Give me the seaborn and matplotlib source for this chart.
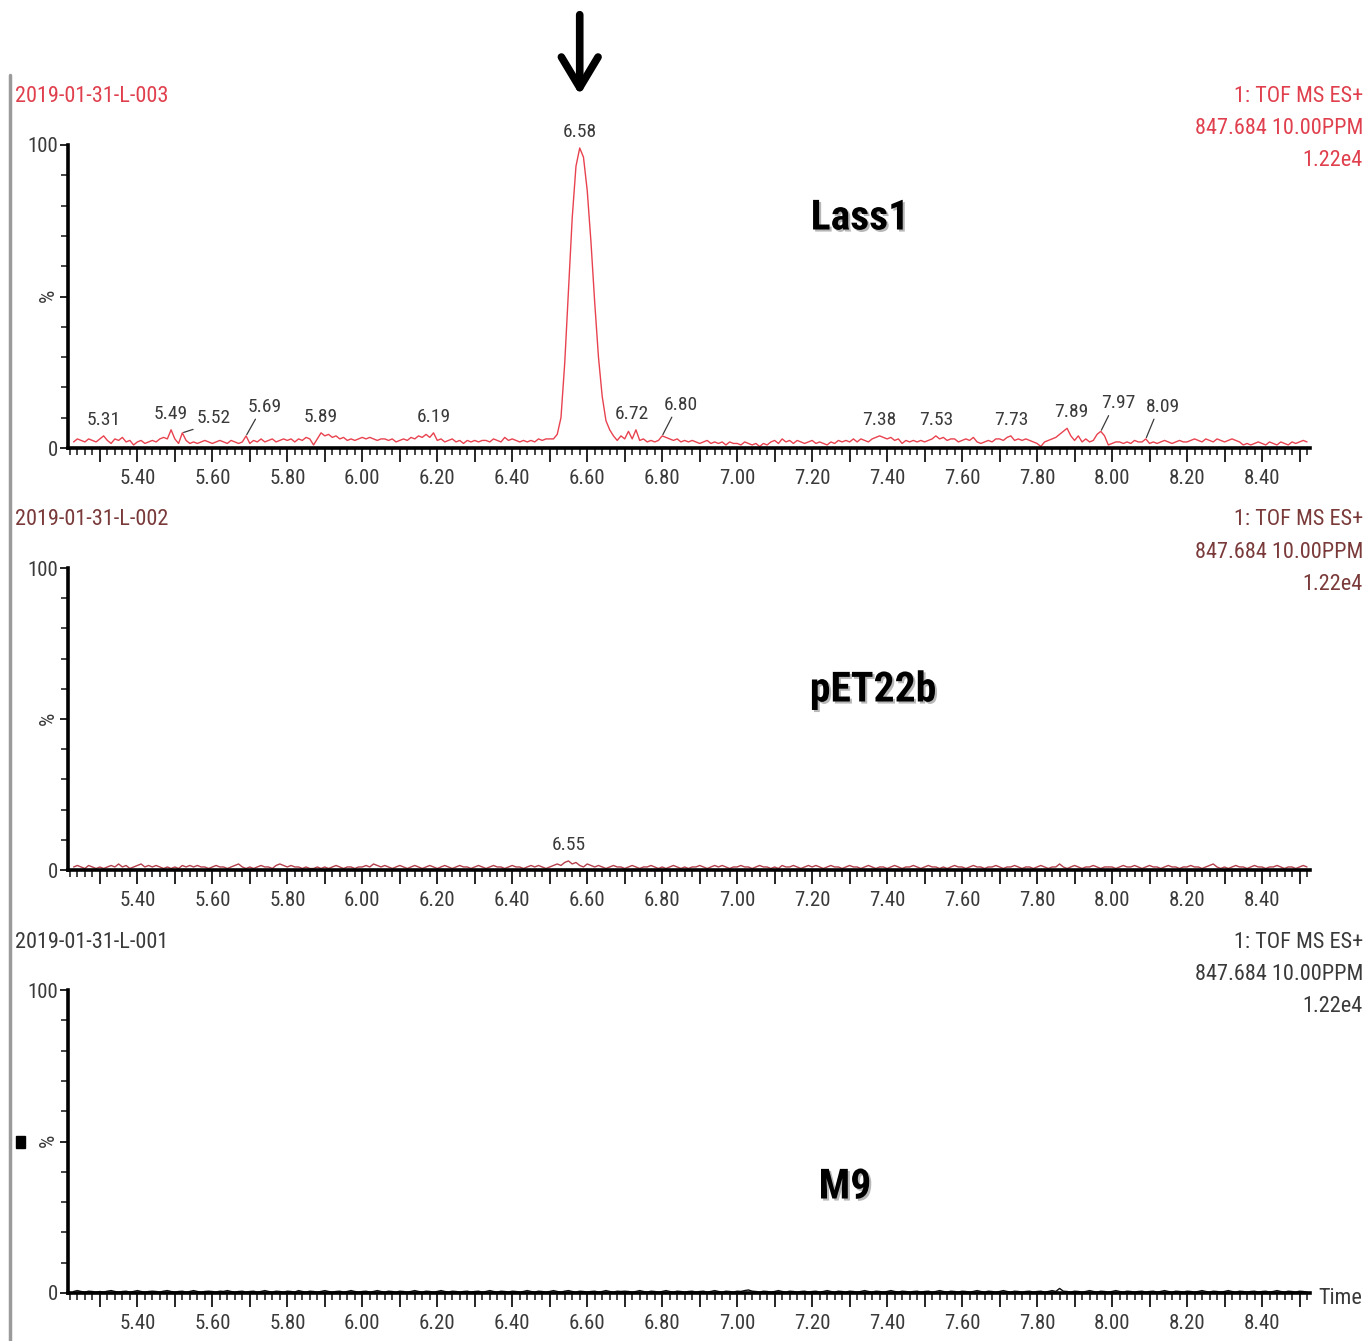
# extracted ion chromatograms m/z 847.684, Lass1 vs pET22b vs M9

import numpy as np
import pandas as pd
import matplotlib
matplotlib.use('Agg')
import matplotlib.pyplot as plt
import matplotlib.patheffects as pe
from matplotlib import font_manager
from matplotlib.ticker import FixedLocator, MultipleLocator, FuncFormatter
import seaborn as sns

# === données ===
# temps de rétention, un scan toutes les 0.01 min de 5.23 à 8.52
time_min = np.round(np.arange(523, 853) / 100, 2)

lass1_pct = [
    2, 3, 2.5, 2, 3, 2.5, 2,
    3, 4, 2.5, 1.5, 3, 2.5, 3.5, 2, 2.5, 1,
    2, 2.5, 1.5, 2, 2.5, 2, 3, 3.5, 3, 6,
    3, 1.5, 5, 2.5, 1.5, 2, 1.5, 2, 2.5, 2,
    1.5, 2, 2.5, 2, 1.5, 2.5, 2, 1.5, 2, 4,
    1.5, 2.5, 2, 3, 2, 2.5, 3, 2, 2.5, 3,
    2.5, 3, 2, 3, 2.5, 3.5, 3, 1, 3, 5,
    4, 4.5, 3.5, 4, 3, 3.5, 2.5, 3, 2.5, 3,
    3.5, 3, 3.5, 3, 2.5, 3, 3, 2.5, 3, 2,
    2.5, 3, 2.5, 3.5, 3, 4, 3.5, 4.5, 3.5, 5,
    2.5, 3, 2, 2.5, 3, 2, 2.5, 1.5, 2.5, 2,
    2.5, 2, 2.5, 2.5, 2, 3, 2.5, 2, 3.5, 2.5,
    3, 2.5, 2, 2.5, 2, 2.5, 2, 3, 2.5, 3,
    3, 3, 4.5, 10, 28, 52, 76, 93, 99, 96,
    85, 68, 48, 30, 17, 9, 6, 4, 2.5, 4,
    3, 5.5, 3, 6, 2.5, 3, 2, 2.5, 2, 2.5,
    4, 3.5, 3, 2.5, 3, 2, 2.5, 2, 2.5, 2,
    1.5, 2, 2.5, 1.5, 2, 1.5, 2, 1, 2, 1.5,
    1.5, 1, 2, 1.5, 1, 1.5, 0.5, 1.5, 1, 2,
    2.5, 1.5, 3, 2, 2.5, 1.5, 2.5, 2, 1.5, 2,
    2.5, 1.5, 2, 1.5, 1, 2, 1.5, 2.5, 2, 2.5,
    2, 3, 2, 3, 2.5, 2, 3, 3.5, 4, 3.5,
    3, 3.5, 2.5, 3, 1.5, 2.5, 2, 2.5, 2, 2.5,
    2, 2.5, 3, 4, 3, 3.5, 2.5, 3, 3, 2,
    2.5, 3, 2.5, 3.5, 2, 1.5, 2, 2.5, 2, 3,
    3, 2.5, 3.5, 4, 2.5, 3, 2.5, 3, 2.5, 2,
    1.5, 0.5, 2, 2.5, 3, 3.5, 4.5, 5.5, 6.5, 4,
    2.5, 4, 2, 3, 2, 2.5, 4.5, 5.5, 4, 1,
    1.5, 2, 2, 1.5, 2, 1.5, 2.5, 2, 2, 3,
    1.5, 2, 1.5, 2, 2.5, 2, 1.5, 2, 2.5, 2,
    2, 2.5, 3, 2.5, 2, 3, 2.5, 2, 3, 2.5,
    2, 2.5, 3, 2.5, 2, 1, 1.5, 1, 1.5, 2,
    1.5, 1, 2, 1.5, 1, 2, 1.5, 1, 2, 1.5,
    2, 2.5, 2,
]

pet22b_pct = [
    1, 1.5, 1, 0.5, 1.5, 1, 0.5,
    1, 0.5, 1, 1.5, 1, 2, 1, 1.5, 0.5, 1,
    1.5, 2, 1, 1.5, 1, 1.5, 1, 0.5, 1, 0.5,
    1, 0.5, 1.5, 1, 1.5, 1, 1.5, 1, 1, 0.5,
    1, 1.5, 1, 1, 0.5, 1, 1.5, 2, 1, 0.5,
    1, 0.5, 1, 1.5, 1, 1, 0.5, 1.5, 2, 1.5,
    1, 1.5, 1, 1, 0.5, 1, 0.5, 0.5, 1, 0.5,
    1, 0.5, 1, 1.5, 1, 0.5, 1, 1, 0.5, 1,
    1, 1.5, 1, 2, 1.5, 1, 1.5, 1, 0.5, 1,
    1.5, 1, 0.5, 1, 1.5, 1, 0.5, 1, 1.5, 1,
    0.5, 1, 1.5, 1, 0.5, 1, 1.5, 1, 1, 0.5,
    1, 1.5, 1, 0.5, 1, 1.5, 1, 1, 0.5, 1,
    1.5, 1, 1, 0.5, 1, 1.5, 1, 1.5, 1, 0.5,
    1, 1.5, 2, 1.5, 2.5, 3, 2, 2.5, 1.5, 1,
    2, 1.5, 1, 1.5, 1, 0.5, 1, 1.5, 1, 1,
    0.5, 1, 1.5, 1, 0.5, 1, 1, 1.5, 1, 0.5,
    1, 0.5, 1, 1.5, 1, 0.5, 1, 0.5, 1, 1,
    1.5, 1, 0.5, 1, 1.5, 1, 1.5, 1, 0.5, 1,
    1, 1.5, 1, 1, 0.5, 1, 1.5, 1, 1, 0.5,
    1, 0.5, 1.5, 1, 1, 1.5, 1, 0.5, 1, 1.5,
    1, 1.5, 1, 0.5, 1, 1.5, 1, 1, 0.5, 1,
    1.5, 1, 1, 0.5, 1, 1.5, 1, 0.5, 1, 1,
    0.5, 1, 1.5, 1, 0.5, 1, 1, 1.5, 1, 0.5,
    1, 1.5, 1, 1, 0.5, 1, 0.5, 1, 1.5, 1,
    1, 0.5, 1, 1.5, 1, 1, 0.5, 1, 1, 1.5,
    1, 0.5, 1, 1, 1.5, 1, 0.5, 1, 1, 0.5,
    1, 1.5, 1, 0.5, 1, 1, 2, 1, 0.5, 1,
    1.5, 1, 0.5, 1, 1, 1.5, 1, 0.5, 1, 1,
    1, 0.5, 1, 1.5, 1, 1, 1.5, 1, 0.5, 1,
    1.5, 1, 1, 0.5, 1, 1.5, 1, 1, 0.5, 1,
    1, 1.5, 1, 1, 0.5, 1, 1.5, 2, 1, 0.5,
    1, 0.5, 1, 1.5, 1, 1, 0.5, 1, 1.5, 1,
    1, 0.5, 1, 1, 1.5, 1, 0.5, 1, 1, 0.5,
    1, 1.5, 1,
]

m9_pct = [
    0.5, 0.8, 0.5, 0.3, 0.6, 0.5, 0.3,
    0.5, 0.3, 0.6, 0.8, 0.5, 0.3, 0.5, 0.6, 0.3, 0.5,
    0.8, 0.5, 0.3, 0.5, 0.6, 0.5, 0.3, 0.6, 0.8, 0.5,
    0.3, 0.5, 0.6, 0.3, 0.5, 0.8, 0.5, 0.3, 0.5, 0.6,
    0.5, 0.3, 0.6, 0.5, 0.8, 0.5, 0.3, 0.5, 0.6, 0.3,
    0.5, 0.6, 0.3, 0.5, 0.8, 0.5, 0.3, 0.6, 0.5, 0.3,
    0.6, 0.5, 0.3, 0.8, 0.5, 0.3, 0.6, 0.5, 0.3, 0.5,
    0.8, 0.5, 0.3, 0.5, 0.6, 0.3, 0.5, 0.8, 0.5, 0.3,
    0.5, 0.6, 0.3, 0.5, 0.8, 0.5, 0.3, 0.6, 0.5, 0.3,
    0.6, 0.5, 0.3, 0.5, 0.8, 0.5, 0.3, 0.6, 0.5, 0.3,
    0.5, 0.8, 0.5, 0.3, 0.6, 0.5, 0.3, 0.5, 0.6, 0.3,
    0.5, 0.6, 0.3, 0.5, 0.8, 0.5, 0.3, 0.6, 0.5, 0.3,
    0.6, 0.5, 0.3, 0.5, 0.8, 0.5, 0.3, 0.6, 0.5, 0.3,
    0.5, 0.8, 0.5, 0.3, 0.6, 0.8, 0.5, 0.3, 0.6, 0.5,
    0.3, 0.5, 0.6, 0.3, 0.5, 0.8, 0.5, 0.3, 0.6, 0.5,
    0.6, 0.5, 0.3, 0.5, 0.8, 0.5, 0.3, 0.6, 0.5, 0.3,
    0.5, 0.8, 0.5, 0.3, 0.6, 0.5, 0.3, 0.5, 0.6, 0.3,
    0.5, 0.6, 0.3, 0.5, 0.8, 0.5, 0.3, 0.6, 0.5, 0.3,
    0.6, 0.5, 0.8, 1.0, 0.6, 0.5, 0.3, 0.6, 0.5, 0.3,
    0.5, 0.8, 0.5, 0.3, 0.6, 0.5, 0.3, 0.5, 0.6, 0.3,
    0.5, 0.6, 0.3, 0.5, 0.8, 0.5, 0.3, 0.6, 0.5, 0.3,
    0.6, 0.5, 0.3, 0.5, 0.8, 0.5, 0.3, 0.6, 0.5, 0.3,
    0.5, 0.8, 0.5, 0.3, 0.6, 0.5, 0.3, 0.5, 0.6, 0.3,
    0.5, 0.6, 0.3, 0.5, 0.8, 0.5, 0.3, 0.6, 0.5, 0.3,
    0.6, 0.5, 0.3, 0.5, 0.8, 0.5, 0.3, 0.6, 0.5, 0.3,
    0.5, 0.8, 0.5, 0.3, 0.6, 0.5, 0.3, 0.5, 0.6, 0.3,
    0.5, 0.6, 0.3, 0.5, 0.8, 0.5, 1.5, 0.6, 0.5, 0.3,
    0.6, 0.5, 0.3, 0.5, 0.8, 0.5, 0.3, 0.6, 0.5, 0.3,
    0.5, 0.8, 0.5, 0.3, 0.6, 0.5, 0.3, 0.5, 0.6, 0.3,
    0.5, 0.6, 0.3, 0.5, 0.8, 0.5, 0.3, 0.6, 0.5, 0.3,
    0.6, 0.5, 0.3, 0.5, 0.8, 0.5, 0.3, 0.6, 0.5, 0.3,
    0.5, 0.8, 0.5, 0.3, 0.6, 0.5, 0.3, 0.5, 0.6, 0.3,
    0.5, 0.6, 0.3, 0.5, 0.8, 0.5, 0.3, 0.6, 0.5, 0.3,
    0.6, 0.5, 0.3,
]

# pics annotés (temps affiché par le logiciel MassLynx)
lass1_peaks = [5.31, 5.49, 5.52, 5.69, 5.89, 6.19, 6.58, 6.72, 6.80,
               7.38, 7.53, 7.73, 7.89, 7.97, 8.09]
lass1_peak_pct = [4, 6, 5, 4, 5, 5, 99, 6, 4, 4, 4, 4, 6.5, 5.5, 3]
# pics avec un trait de rappel : décalage de l'étiquette (px)
leader_offset = {5.52: (14, 6), 5.69: (2, 20), 6.80: (2, 22), 7.97: (0, 19), 8.09: (0, 23)}
pet_peaks = [6.55]
pet_peak_pct = [3]

sample_ids = ['2019-01-31-L-003', '2019-01-31-L-002', '2019-01-31-L-001']
sample_names = ['Lass1', 'pET22b', 'M9']
header_lines = ['1: TOF MS ES+', '847.684 10.00PPM', '1.22e4']
trace_colors = ['#e8424f', '#b5404c', '#111111']
header_colors = ['#e0404e', '#7a3a3a', '#3a3a3a']

# === style ===
sns.set_style('ticks')
names = {f.name for f in font_manager.fontManager.ttflist}
narrow_candidates = ['Liberation Sans Narrow', 'Roboto Condensed', 'DejaVu Sans Condensed',
                     'Open Sans Condensed']
narrow = next((n for n in narrow_candidates if n in names), None)
if narrow is None:
    narrow = 'Liberation Sans'
    fs_tick, fs_head, fs_peak = 13.5, 14.5, 12.5
else:
    fs_tick, fs_head, fs_peak = 15, 16, 14
plt.rcParams['font.family'] = [narrow, 'DejaVu Sans']
bold_candidates = ['Roboto Condensed', 'Open Sans Condensed', 'DejaVu Sans Condensed',
                   'Liberation Sans Narrow']
bold_font = next((n for n in bold_candidates if n in names), None)
fs_name = 30 if bold_font else 25
bold_font = bold_font or 'Lato'

df = pd.DataFrame({'time': time_min, 'Lass1': lass1_pct, 'pET22b': pet22b_pct, 'M9': m9_pct})

W, H = 1368, 1341
PT = 100 / 72  # px par point
fig = plt.figure(figsize=(W / 100, H / 100), dpi=100)

# bord gris à gauche (capture d'écran)
fig.add_artist(plt.Line2D([10 / W, 10 / W], [0, 1 - 75 / H], color='#9a9a9a', lw=2.5))

ax_left, ax_right = 68, 1310
panel_bottom = [448, 870, 1293]
panel_top = [145, 568, 990]
name_xy = [(860, 218), (873, 690), (845, 1187)]

axes = []
for i, name in enumerate(sample_names):
    b, t = panel_bottom[i], panel_top[i]
    ax = fig.add_axes([ax_left / W, 1 - b / H, (ax_right - ax_left) / W, (b - t) / H])
    sns.lineplot(data=df, x='time', y=name, ax=ax, color=trace_colors[i], lw=1.0)
    ax.set_xlim(5.215, 8.528)
    ax.set_ylim(0, 100)
    ax.set_xlabel('')
    ax.set_ylabel('')
    for s in ['top', 'right']:
        ax.spines[s].set_visible(False)
    for s in ['left', 'bottom']:
        ax.spines[s].set_linewidth(2.6)
        ax.spines[s].set_color('black')
    ax.patch.set_alpha(0)

    # axe x : tick tous les 0.1, étiquette tous les 0.2, mineurs tous les 0.02
    ax.xaxis.set_major_locator(FixedLocator(np.round(np.arange(53, 86) / 10, 1)))
    ax.xaxis.set_major_formatter(FuncFormatter(
        lambda v, p: f'{v:.2f}' if round(v * 10) % 2 == 0 else ''))
    ax.xaxis.set_minor_locator(MultipleLocator(0.02))
    ax.tick_params(axis='x', which='major', length=10, width=1.4, labelsize=fs_tick,
                   labelcolor='#3a3a3a', pad=5)
    ax.tick_params(axis='x', which='minor', length=5, width=1.2)

    # axe y : 0, %, 100 + ticks tous les 10
    ax.yaxis.set_major_locator(FixedLocator([0, 50, 100]))
    ax.set_yticklabels(['0', '%', '100'])
    ax.get_yticklabels()[1].set_rotation(90)
    ax.get_yticklabels()[1].set_fontsize(fs_tick + 2)
    ax.yaxis.set_minor_locator(MultipleLocator(10))
    ax.tick_params(axis='y', which='major', length=6, width=1.4, labelsize=fs_tick,
                   labelcolor='#3a3a3a', pad=1)
    ax.tick_params(axis='y', which='minor', length=5, width=1.2)

    # en-têtes
    y_head = t - 48
    fig.text(15 / W, 1 - y_head / H, sample_ids[i], fontsize=fs_head, color=header_colors[i],
             ha='left', va='center')
    for k, line in enumerate(header_lines):
        fig.text(1363 / W, 1 - (y_head + 32 * k) / H, line, fontsize=fs_head,
                 color=header_colors[i], ha='right', va='center')

    # nom de l'échantillon
    nx, ny = name_xy[i]
    fig.text(nx / W, 1 - ny / H, name, fontsize=fs_name, fontweight='bold',
             family=[bold_font, 'DejaVu Sans'], ha='center', va='center', color='black',
             path_effects=[pe.withSimplePatchShadow(offset=(1.5, -1.5),
                                                    shadow_rgbFace='#888888', alpha=0.6)])
    axes.append(ax)

# annotations des pics
ax1 = axes[0]
for tpk, ypk in zip(lass1_peaks, lass1_peak_pct):
    if tpk in leader_offset:
        dx, dy = leader_offset[tpk]
        ax1.annotate(f'{tpk:.2f}', xy=(tpk, ypk), xytext=(dx / PT, dy / PT),
                     textcoords='offset points', fontsize=fs_peak, color='#3a3a3a',
                     ha='left', va='bottom',
                     arrowprops=dict(arrowstyle='-', color='#3a3a3a', lw=0.9,
                                     relpos=(0.3, 0.1), shrinkA=0, shrinkB=1))
    else:
        ax1.annotate(f'{tpk:.2f}', xy=(tpk, ypk), xytext=(0, 5), textcoords='offset points',
                     fontsize=fs_peak, color='#3a3a3a', ha='center', va='bottom')
for tpk, ypk in zip(pet_peaks, pet_peak_pct):
    axes[1].annotate(f'{tpk:.2f}', xy=(tpk, ypk), xytext=(0, 5), textcoords='offset points',
                     fontsize=fs_peak, color='#3a3a3a', ha='center', va='bottom')

# flèche sur le pic à 6.58
ax1.annotate('', xy=(6.58, 116.5), xytext=(6.58, 143), xycoords='data', annotation_clip=False,
             arrowprops=dict(arrowstyle='->,head_length=1.0,head_width=0.6', color='black',
                             lw=5.5, mutation_scale=22, shrinkA=0, shrinkB=0))

# "Time" en bout d'axe
fig.text(1318 / W, 1 - 1299 / H, 'Time', fontsize=fs_head, color='#3a3a3a', ha='left', va='center')

# petit carré noir à gauche du 3e panneau
fig.add_artist(plt.Rectangle((16 / W, 1 - 1148 / H), 9 / W, 12 / H, color='black'))

fig.savefig('out.png', dpi=100)
